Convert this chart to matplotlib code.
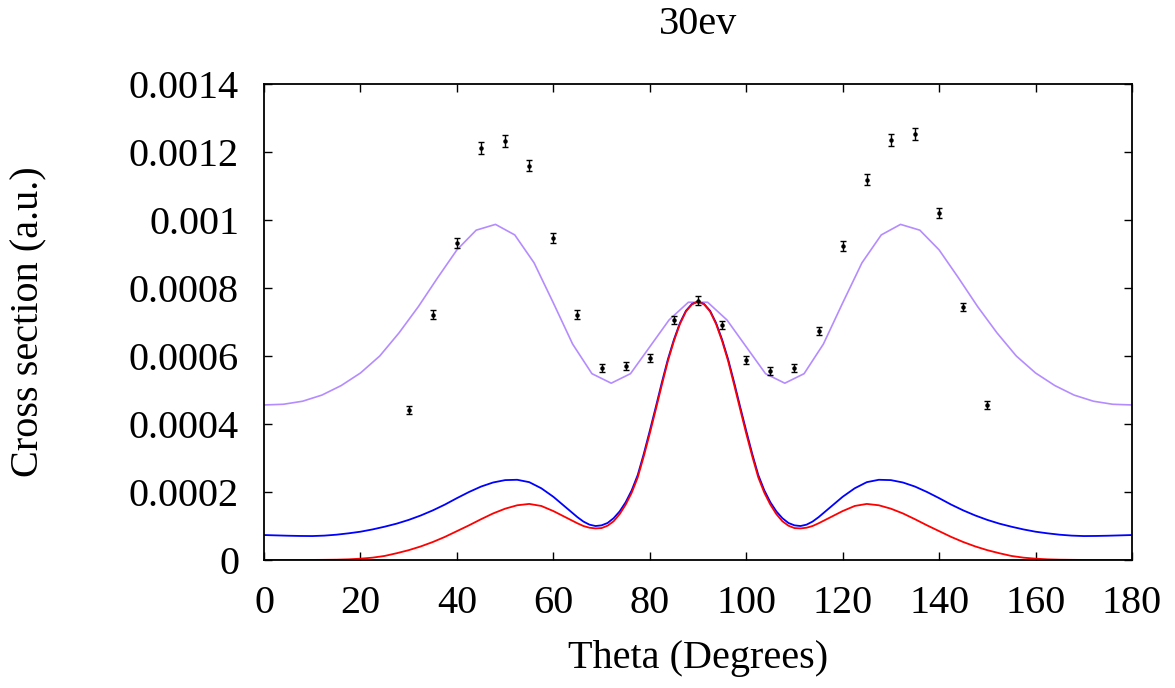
import matplotlib
matplotlib.use("Agg")
import matplotlib.pyplot as plt
import numpy as np

plt.rcParams['font.family'] = ['Liberation Serif', 'DejaVu Serif']

# experimental points (theta, cross section, error)
theta_exp = [30, 35, 40, 45, 50, 55, 60, 65, 70, 75, 80, 85, 90,
             95, 100, 105, 110, 115, 120, 125, 130, 135, 140, 145, 150]
sigma_exp = [0.000441, 0.000721, 0.000932, 0.001212, 0.001232, 0.001159, 0.000947,
             0.000721, 0.000565, 0.000571, 0.000594, 0.000706, 0.000762,
             0.000691, 0.000588, 0.000556, 0.000565, 0.000674, 0.000924,
             0.001118, 0.001235, 0.001253, 0.001021, 0.000744, 0.000456]
err_exp = [0.000012, 0.000013, 0.000015, 0.000017, 0.000017, 0.000016, 0.000015,
           0.000013, 0.000012, 0.000012, 0.000012, 0.000013, 0.000013,
           0.000013, 0.000012, 0.000012, 0.000012, 0.000012, 0.000015,
           0.000016, 0.000017, 0.000017, 0.000015, 0.000013, 0.000012]

# purple model (coarse 4 degree grid)
theta_p = list(range(0, 181, 4))
sigma_p = [0.000456, 0.000458, 0.000467, 0.000485, 0.000513, 0.000550, 0.000600,
           0.000668, 0.000745, 0.000830, 0.000912, 0.000970, 0.000987, 0.000956,
           0.000874, 0.000756, 0.000635, 0.000548, 0.000520, 0.000548, 0.000627,
           0.000706, 0.000758, 0.000758, 0.000706, 0.000627, 0.000548, 0.000520,
           0.000548, 0.000635, 0.000756, 0.000874, 0.000956, 0.000987, 0.000970,
           0.000912, 0.000830, 0.000745, 0.000668, 0.000600, 0.000550, 0.000513,
           0.000485, 0.000467, 0.000458, 0.000456]

# blue / red models, left half up to 90 (symmetric about 90)
theta_half = [0, 2.5, 5, 7.5, 10, 12.5, 15, 17.5, 20, 22.5, 25, 27.5, 30, 32.5,
              35, 37.5, 40, 42.5, 45, 47.5, 50, 52.5, 55, 57.5, 60, 62.5, 65,
              66.25, 67.5, 68.75, 70, 71.25, 72.5, 73.75, 75, 76.25, 77.5, 78.75,
              80, 81.25, 82.5, 83.75, 85, 86.25, 87.5, 88.75, 90]
blue_half = [0.0000735, 0.0000725, 0.0000715, 0.0000708, 0.0000705, 0.0000718,
             0.0000745, 0.0000785, 0.0000833, 0.000090, 0.000098, 0.000107,
             0.000118, 0.000131, 0.000146, 0.000163, 0.000182, 0.000200, 0.000216,
             0.000228, 0.000235, 0.000236, 0.000229, 0.000211, 0.000186, 0.000156,
             0.000126, 0.000113, 0.000104, 0.000100, 0.000102, 0.000109, 0.000123,
             0.000143, 0.000170, 0.000205, 0.000250, 0.000312, 0.000380, 0.000450,
             0.000522, 0.000590, 0.000648, 0.000697, 0.000733, 0.000753, 0.000760]
red_half = [0.0, 0.0, 0.0, 0.0, 0.0000003, 0.0000006, 0.000001, 0.000002, 0.000004,
            0.000007, 0.000012, 0.000020, 0.000029, 0.000040, 0.000053, 0.000068,
            0.000085, 0.000102, 0.000120, 0.000137, 0.000151, 0.000161, 0.000165,
            0.000159, 0.000144, 0.000126, 0.000108, 0.000100, 0.000095, 0.000093,
            0.000094, 0.000101, 0.000114, 0.000135, 0.000163, 0.000198, 0.000243,
            0.000305, 0.000372, 0.000443, 0.000515, 0.000585, 0.000644, 0.000694,
            0.000731, 0.000752, 0.000760]

th_full = theta_half + [180 - t for t in theta_half[-2::-1]]
blue_full = blue_half + blue_half[-2::-1]
red_full = red_half + red_half[-2::-1]

fig = plt.figure(figsize=(11.75, 6.88), dpi=100)
ax = fig.add_axes([0.2247, 0.186, 0.7387, 0.692])

ax.plot(theta_p, sigma_p, color="#b48cff", lw=1.2)
ax.plot(th_full, blue_full, color="#0000ff", lw=1.3)
ax.plot(th_full, red_full, color="#ff0000", lw=1.3)
ax.errorbar(theta_exp, sigma_exp, yerr=err_exp, fmt="o", ms=2.2, color="black",
            ecolor="black", elinewidth=1.0, capsize=2.5, capthick=1.0)

ax.set_xlim(0, 180)
ax.set_ylim(0, 0.0014)
ax.set_xticks(range(0, 181, 20))
ax.set_yticks([0, 0.0002, 0.0004, 0.0006, 0.0008, 0.001, 0.0012, 0.0014])
ax.set_yticklabels(["0", "0.0002", "0.0004", "0.0006", "0.0008", "0.001", "0.0012", "0.0014"])
ax.tick_params(direction="in", length=6, width=1, top=True, right=True, labelsize=29)
ax.tick_params(axis="x", pad=18)
ax.tick_params(axis="y", pad=18)
for s in ax.spines.values():
    s.set_linewidth(1.3)

ax.set_title("30ev", fontsize=29, pad=36)
ax.set_xlabel("Theta (Degrees)", fontsize=29)
ax.set_ylabel("Cross section (a.u.)", fontsize=29)
ax.xaxis.set_label_coords(0.5, -0.168)
ax.yaxis.set_label_coords(-0.25, 0.5)

plt.savefig("out.png", dpi=100)
